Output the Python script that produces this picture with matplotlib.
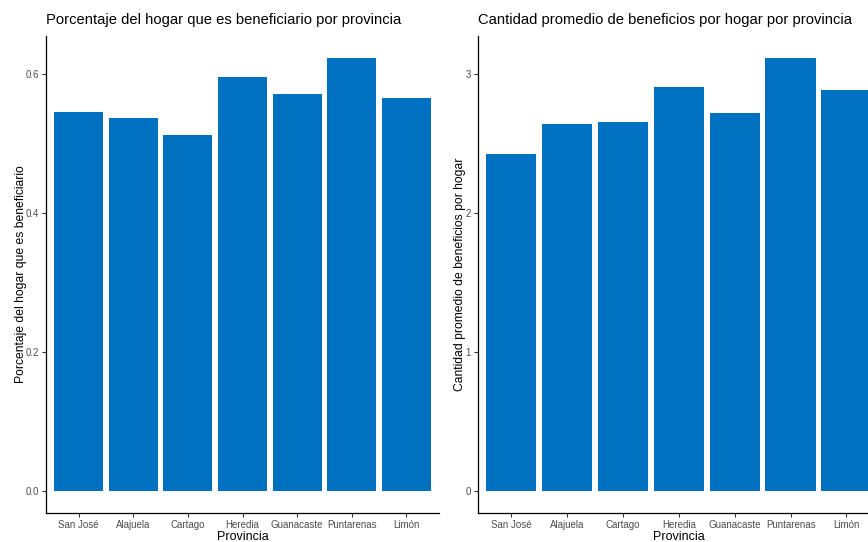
import numpy as np
import matplotlib.pyplot as plt

plt.rcParams['font.family'] = ['Liberation Sans', 'DejaVu Sans']

# datos
provincias = ['San José', 'Alajuela', 'Cartago', 'Heredia', 'Guanacaste', 'Puntarenas', 'Limón']
pct_beneficiario = [0.546, 0.537, 0.513, 0.596, 0.572, 0.624, 0.566]
prom_beneficios = [2.425, 2.64, 2.65, 2.904, 2.718, 3.114, 2.883]

color_barra = '#0070C0'

fig = plt.figure(figsize=(8.68, 5.42), dpi=100)
# el panel derecho queda recortado por el borde como en la imagen original
ax1 = fig.add_axes([0.053, 0.0535, 0.4528, 0.880])
ax2 = fig.add_axes([0.5503, 0.0535, 0.4635, 0.880])


def panel(ax, valores, titulo, ylabel, yticks, yticklabels, ylab_x):
    x = np.arange(1, len(provincias) + 1)
    ax.bar(x, valores, width=0.9, color=color_barra, edgecolor='none')
    ax.set_xlim(0.4, len(provincias) + 0.6)
    vmax = max(valores)
    ax.set_ylim(-0.05 * vmax, 1.05 * vmax)
    ax.set_xticks(x)
    ax.set_xticklabels(provincias)
    ax.set_yticks(yticks)
    ax.set_yticklabels(yticklabels)
    ax.tick_params(axis='both', labelsize=7.0, labelcolor='#4D4D4D', color='#333333',
                   length=3, width=0.8, pad=2)
    for s in ['top', 'right']:
        ax.spines[s].set_visible(False)
    for s in ['left', 'bottom']:
        ax.spines[s].set_linewidth(0.9)
        ax.spines[s].set_color('black')
    ax.set_xlabel('Provincia', fontsize=9, labelpad=1)
    ax.set_ylabel(ylabel, fontsize=8.7)
    ax.yaxis.set_label_coords(ylab_x, 0.5)
    ax.set_title(titulo, fontsize=10.6, loc='left', pad=9)


panel(ax1, pct_beneficiario, 'Porcentaje del hogar que es beneficiario por provincia',
      'Porcentaje del hogar que es beneficiario',
      [0.0, 0.2, 0.4, 0.6], ['0.0', '0.2', '0.4', '0.6'], -0.049)
panel(ax2, prom_beneficios, 'Cantidad promedio de beneficios por hogar por provincia',
      'Cantidad promedio de beneficios por hogar',
      [0, 1, 2, 3], ['0', '1', '2', '3'], -0.03)

fig.savefig('out.png', dpi=100)
